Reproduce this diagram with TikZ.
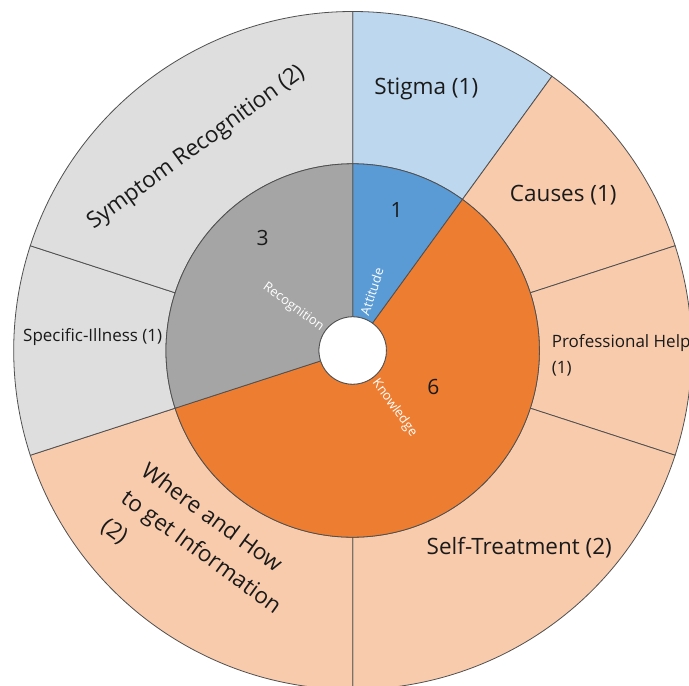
\documentclass[tikz,border=0pt]{standalone}
\usepackage{fontspec}
\setmainfont{Open Sans}
\definecolor{att}{HTML}{5B9BD5}
\definecolor{attL}{HTML}{BDD7EE}
\definecolor{kno}{HTML}{ED7D31}
\definecolor{knoL}{HTML}{F8CBAD}
\definecolor{rec}{HTML}{A5A5A5}
\definecolor{recL}{HTML}{DEDEDE}
\definecolor{edgecol}{HTML}{505050}
\definecolor{txt}{HTML}{1A1A1A}
\newcommand\ringseg[5]{%
  \draw[segline, fill=#1] (#2:#4) arc[start angle=#2, end angle=#3, radius=#4pt]
    -- (#3:#5) arc[start angle=#3, end angle=#2, radius=#5pt] -- cycle;}
\tikzset{
  segline/.style={draw=edgecol, line width=0.8pt},
  biglab/.style={font=\fontsize{22.5}{34}\selectfont, text=txt, inner sep=0pt},
  midlab/.style={font=\fontsize{17}{25.6}\selectfont, text=txt, inner sep=0pt},
  numlab/.style={font=\fontsize{21}{25}\selectfont, text=txt, inner sep=0pt},
  radlab/.style={font=\fontsize{13}{15}\selectfont, text=white, inner sep=0pt}
}
\begin{document}
\begin{tikzpicture}[x=1pt, y=1pt]
\useasboundingbox[fill=white] (-352.7,-335.5) rectangle (336.3,350.5);
\clip (-352.7,-335.5) rectangle (336.3,350.5);
% outer ring
\ringseg{attL}{54}{90}{186.7}{339}
\ringseg{knoL}{18}{54}{186.7}{339}
\ringseg{knoL}{-18}{18}{186.7}{339}
\ringseg{knoL}{-90}{-18}{186.7}{339}
\ringseg{knoL}{-162}{-90}{186.7}{339}
\ringseg{recL}{162}{198}{186.7}{339}
\ringseg{recL}{90}{162}{186.7}{339}
% inner ring
\ringseg{att}{54}{90}{33.7}{186.7}
\ringseg{kno}{-162}{54}{33.7}{186.7}
\ringseg{rec}{90}{198}{33.7}{186.7}
\draw[segline, fill=white] (0,0) circle[radius=33.7pt];
% outer labels
\node[biglab] (stigma) at (73.6,261.8) {Stigma (1)};
\node[biglab] (causes) at (210.6,155) {Causes (1)};
\node[midlab, anchor=west, align=left] (profhelp) at (199,-4.8) {Professional Help\\(1)};
\node[biglab] (selftreat) at (166.6,-197.5) {Self-Treatment (2)};
\node[biglab, rotate=-36, align=left] (where) at (-151.7,-202) {Where and How\\to get Information\\(2)};
\node[biglab, rotate=36] (symptom) at (-156.3,202.5) {Symptom Recognition (2)};
\node[midlab] (specific) at (-260,13.5) {Specific-Illness (1)};
% inner numbers
\node[numlab] (n1) at (44,140.5) {1};
\node[numlab] (n3) at (-90,112.2) {3};
\node[numlab] (n6) at (80.6,-36.8) {6};
% radial labels
\node[radlab, rotate=72, anchor=west] (att) at (72:37.5) {Attitude};
\node[radlab, rotate=-36, anchor=east] (rec) at (144:37.5) {Recognition};
\node[radlab, rotate=-54, anchor=west] (kno) at (-54:37.5) {Knowledge};
\end{tikzpicture}
\end{document}
